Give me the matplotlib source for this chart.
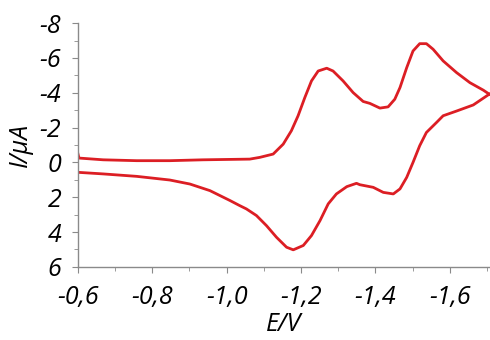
import numpy as np
import matplotlib.pyplot as plt
from matplotlib.ticker import MultipleLocator, FuncFormatter

# forward scan, -0.6 V -> -1.706 V  (E in V, I in uA)
e_fwd = [-0.600, -0.603, -0.668, -0.758, -0.847, -0.936, -1.062, -1.089, -1.125, -1.152,
         -1.174, -1.192, -1.210, -1.228, -1.246, -1.269, -1.286, -1.313, -1.340, -1.367,
         -1.385, -1.412, -1.434, -1.452, -1.466, -1.484, -1.501, -1.519, -1.537, -1.555,
         -1.582, -1.618, -1.654, -1.690, -1.706]
i_fwd = [-0.50, -0.25, -0.15, -0.10, -0.10, -0.15, -0.19, -0.29, -0.48, -1.05,
         -1.82, -2.68, -3.72, -4.68, -5.25, -5.41, -5.25, -4.68, -4.01, -3.50,
         -3.39, -3.12, -3.19, -3.63, -4.30, -5.44, -6.40, -6.82, -6.82, -6.50,
         -5.83, -5.16, -4.58, -4.15, -3.92]

# reverse scan, -1.706 V -> -0.6 V
e_rev = [-1.706, -1.663, -1.618, -1.582, -1.564, -1.537, -1.519, -1.501, -1.484, -1.466,
         -1.448, -1.421, -1.394, -1.358, -1.349, -1.323, -1.295, -1.273, -1.251, -1.228,
         -1.206, -1.179, -1.161, -1.134, -1.107, -1.080, -1.053, -1.035, -1.009, -0.955,
         -0.901, -0.847, -0.758, -0.668, -0.601]
i_rev = [-3.92, -3.30, -2.95, -2.68, -2.29, -1.72, -0.96, 0.00, 0.86, 1.52,
         1.81, 1.72, 1.43, 1.28, 1.20, 1.39, 1.81, 2.38, 3.34, 4.20,
         4.77, 5.02, 4.87, 4.30, 3.63, 3.05, 2.67, 2.48, 2.19, 1.62,
         1.24, 1.01, 0.80, 0.66, 0.57]

plt.rcParams['font.family'] = ['Open Sans', 'DejaVu Sans']

fig = plt.figure(figsize=(4.9, 3.4), dpi=100)
ax = fig.add_axes([0.159, 0.215, 0.841, 0.717])

red = '#dc1e24'
ax.plot(e_fwd, i_fwd, color=red, lw=2.0, solid_joinstyle='round')
ax.plot(e_rev, i_rev, color=red, lw=2.0, solid_joinstyle='round')

ax.set_xlim(-0.6, -1.708)
ax.set_ylim(6, -8)

ax.xaxis.set_major_locator(MultipleLocator(0.2))
ax.xaxis.set_minor_locator(MultipleLocator(0.1))
ax.yaxis.set_major_locator(MultipleLocator(2))
ax.yaxis.set_minor_locator(MultipleLocator(1))
ax.xaxis.set_major_formatter(FuncFormatter(lambda v, p: f'{v:.1f}'.replace('.', ',')))
ax.yaxis.set_major_formatter(FuncFormatter(lambda v, p: '0' if abs(v) < 1e-9 else f'{v:.0f}'))

for s in ['top', 'right']:
    ax.spines[s].set_visible(False)
for s in ['left', 'bottom']:
    ax.spines[s].set_color('#8a8a8a')
    ax.spines[s].set_linewidth(1.0)

ax.tick_params(which='major', length=4, color='#8a8a8a', labelsize=18)
ax.tick_params(axis='x', which='major', pad=9)
ax.tick_params(axis='y', which='major', pad=8)
ax.tick_params(which='minor', length=3, color='#8a8a8a')
for lab in ax.get_xticklabels() + ax.get_yticklabels():
    lab.set_fontstyle('italic')

ax.set_xlabel('E/V', fontsize=18, fontstyle='italic')
ax.set_ylabel('I/μA', fontsize=18, fontstyle='italic')
ax.xaxis.set_label_coords(0.5, -0.185)
ax.yaxis.set_label_coords(-0.108, 0.5)

fig.savefig('out.png', dpi=100)
